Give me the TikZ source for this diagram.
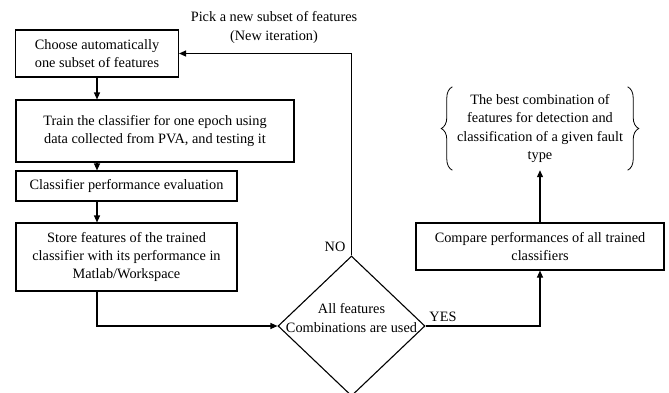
\documentclass[tikz,border=0pt]{standalone}
\usepackage{fontspec}
\setmainfont{Liberation Serif}
\usetikzlibrary{shapes.geometric,arrows.meta,decorations.pathreplacing}

\begin{document}
\begin{tikzpicture}[x=1pt,y=-1pt,
	font=\fontsize{14.3}{18.3}\selectfont,
	stepbox/.style={draw, line width=1.1pt, inner sep=0pt, align=center},
	arr/.style={line width=1.1pt, -{Triangle[length=7pt,width=6pt]}}]
	\useasboundingbox (0,0) rectangle (669,392);

	\node[stepbox, minimum width=163pt, minimum height=47pt] (choose) at (97,53.5) {Choose automatically\\one subset of features};
	\node[stepbox, minimum width=278pt, minimum height=62pt] (train) at (155,131) {Train the classifier for one epoch using\\data collected from PVA, and testing it};
	\node[stepbox, minimum width=221pt, minimum height=30pt] (evalb) at (126.5,186) {Classifier performance evaluation};
	\node[stepbox, minimum width=221pt, minimum height=68pt] (store) at (126.5,257) {Store features of the trained\\classifier with its performance in\\Matlab/Workspace};
	\node[stepbox, minimum width=248pt, minimum height=47pt] (compare) at (540,246.5) {Compare performances of all trained\\classifiers};

	\node[diamond, draw, line width=1.1pt, inner sep=0pt, minimum width=147pt, minimum height=140pt] (dec) at (351.5,326) {};
	\node[align=center] (dectext) at (351.5,318) {All features\\Combinations are used};

	\node[minimum width=175pt, minimum height=83pt, align=center] (best) at (540,128.5) {The best combination of\\features for detection and\\classification of a given fault\\type};
	\draw[line width=0.8pt, decorate, decoration={brace, amplitude=11pt}] (best.south west) -- (best.north west);
	\draw[line width=0.8pt, decorate, decoration={brace, amplitude=11pt}] (best.north east) -- (best.south east);

	\node[align=center] (pick) at (274,27.5) {Pick a new subset of features\\(New iteration)};
	\node (no) at (335,247) {NO};
	\node (yes) at (443,317) {YES};

	\draw[arr] (choose.south) -- (choose.south |- train.north);
	\draw[arr] (choose.south |- train.south) -- (choose.south |- evalb.north);
	\draw[arr] (choose.south |- evalb.south) -- (choose.south |- store.north);
	\draw[arr] (choose.south |- store.south) |- (dec.west);
	\draw[arr] (dec.north) -- (dec.north |- choose.east) -- (choose.east);
	\draw[arr] (dec.east) -| (compare.south);
	\draw[arr] (compare.north) -- (best.south);
\end{tikzpicture}
\end{document}
